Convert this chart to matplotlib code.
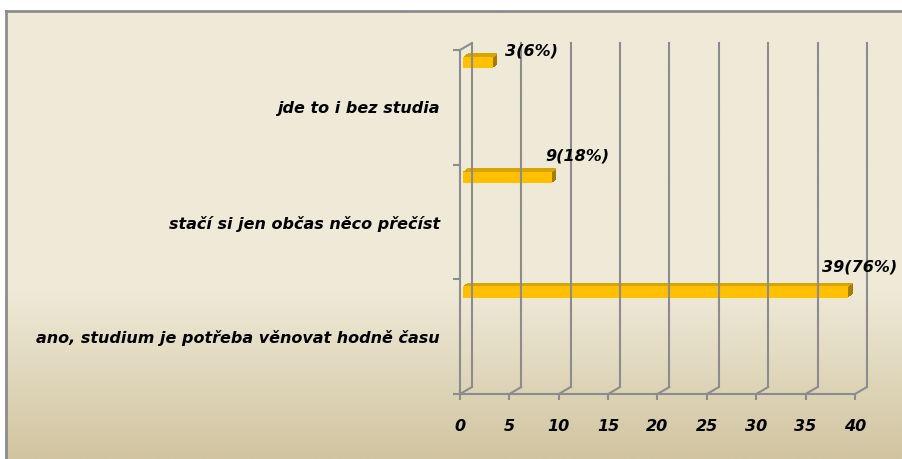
import numpy as np
import matplotlib.pyplot as plt
import matplotlib.transforms as mtransforms
import matplotlib.patheffects as pe
from matplotlib.patches import ConnectionPatch

# data (bottom to top)
categories = ["ano, studium je potřeba věnovat hodně času",
              "stačí si jen občas něco přečíst",
              "jde to i bez studia"]
counts = [39, 9, 3]
percents = [76, 18, 6]
xticks = [0, 5, 10, 15, 20, 25, 30, 35, 40]

W, H = 903, 459
DPI = 100
GRID = "#8c8c8c"
FRONT = "#ffc000"
TOPC = "#d9a300"
SIDE = "#a67c00"
FONT = dict(fontweight="bold", fontstyle="italic", color="black")

fig = plt.figure(figsize=(W / DPI, H / DPI), dpi=DPI)
fig.patch.set_facecolor("white")

# background panel with vertical gradient
bg = fig.add_axes([6 / W, 0, 1 - 6 / W, (H - 11) / H])
c_top = np.array([239, 234, 216]) / 255
c_bot = np.array([209, 196, 160]) / 255
t = np.linspace(0, 1, 300)
frac = np.clip((t - 0.62) / 0.38, 0, 1)
grad = c_top + (c_bot - c_top) * frac[:, None]
bg.imshow(grad[:, None, :], aspect="auto", extent=[0, 1, 0, 1])
bg.set_xlim(0, 1)
bg.set_ylim(0, 1)
bg.set_xticks([])
bg.set_yticks([])
for s in ["right", "bottom"]:
    bg.spines[s].set_visible(False)
for s in ["left", "top"]:
    bg.spines[s].set_color(GRID)
    bg.spines[s].set_linewidth(2)

# plot axes (front plane)
ax = fig.add_axes([460 / W, (H - 394) / H, 395 / W, 344 / H])
ax.set_xlim(0, 40)
ax.set_ylim(0, 3)
ax.patch.set_alpha(0)
for s in ["top", "right"]:
    ax.spines[s].set_visible(False)
for s in ["left", "bottom"]:
    ax.spines[s].set_color(GRID)
    ax.spines[s].set_linewidth(1.5)

back = ax.transData + mtransforms.ScaledTranslation(12 / DPI, 7 / DPI, fig.dpi_scale_trans)
shift = ax.transData + mtransforms.ScaledTranslation(3 / DPI, 0, fig.dpi_scale_trans)

# back wall gridlines and floor connectors
for x in xticks:
    ax.plot([x, x], [0, 3], transform=back, color=GRID, lw=1.5, clip_on=False)
    fig.add_artist(ConnectionPatch(xyA=(x, 0), coordsA=ax.transData,
                                   xyB=(x, 0), coordsB=back,
                                   color=GRID, lw=1.5))
fig.add_artist(ConnectionPatch(xyA=(0, 3), coordsA=ax.transData,
                               xyB=(0, 3), coordsB=back, color=GRID, lw=1.5))

# bars with a small 3D extrusion
ypos = np.arange(len(counts)) + 0.84
bh = 0.1
steps = np.linspace(0.1, 1.0, 12)
ax.barh(ypos, counts, height=bh, align="edge", color=FRONT, transform=shift,
        path_effects=[pe.SimplePatchShadow(offset=(3.3 * d, 2.5 * d),
                                           shadow_rgbFace=SIDE, alpha=1)
                      for d in steps])
ax.barh(ypos + bh - 0.01, counts, height=0.01, align="edge", color=FRONT, transform=shift,
        path_effects=[pe.SimplePatchShadow(offset=(3.3 * d, 2.5 * d),
                                           shadow_rgbFace=TOPC, alpha=1)
                      for d in steps])
ax.barh(ypos, counts, height=bh, align="edge", color=FRONT, transform=shift)

# value labels (offsets mimic the 3D label placement)
label_dx = [10.8, 20.9, 30.2]
label_dy = [8.6, 6.5, -0.7]
for i, (c, p) in enumerate(zip(counts, percents)):
    ax.annotate(f"{c}({p}%)", xy=(c, i + 1), xytext=(label_dx[i], label_dy[i]),
                textcoords="offset points", ha="center", va="center",
                fontsize=11.5, **FONT)

# axes ticks
ax.set_xticks(xticks)
ax.set_xticklabels([str(x) for x in xticks], fontsize=11.5, **FONT)
ax.tick_params(axis="x", length=4.3, width=1.5, color=GRID, pad=13.5)
ax.set_yticks([0.5, 1.5, 2.5])
ax.set_yticklabels(categories, fontsize=11.5, **FONT)
ax.tick_params(axis="y", which="major", length=0, pad=14.4)
ax.set_yticks([0, 1, 2, 3], minor=True)
ax.tick_params(axis="y", which="minor", length=5, width=1.5, color=GRID)

fig.savefig("out.png", dpi=DPI)
